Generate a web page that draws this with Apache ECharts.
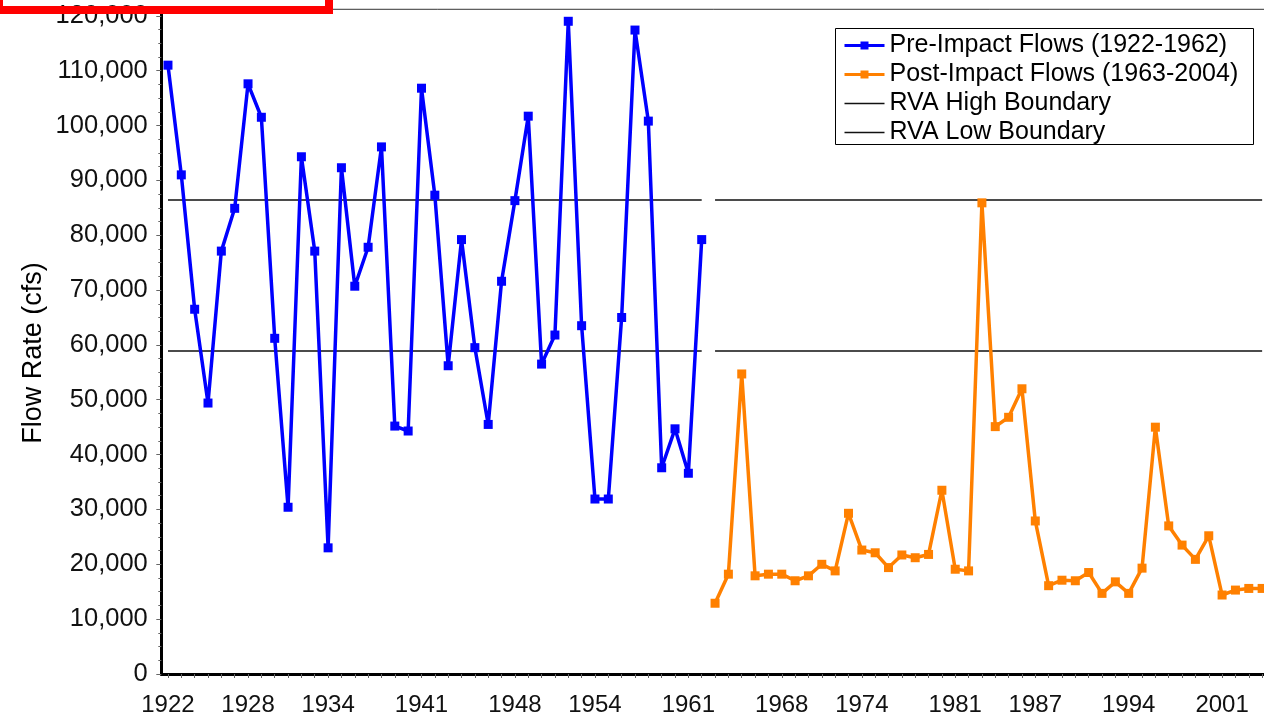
<!DOCTYPE html>
<html>
<head>
<meta charset="utf-8">
<script src="https://cdn.jsdelivr.net/npm/echarts@6/dist/echarts.min.js"></script>
<style>
html,body{margin:0;padding:0;background:#fff;}
#chart{width:1264px;height:717px;}
</style>
</head>
<body>
<div id="chart"></div>
<script>
const years = ['1922','1923','1924','1925','1926','1927','1928','1929','1930','1931',
  '1932','1933','1934','1935','1936','1937','1938','1939','1940','1941',
  '1942','1943','1944','1945','1946','1947','1948','1949','1950','1951',
  '1952','1953','1954','1955','1956','1957','1958','1959','1960','1961','1962',
  '1963','1964','1965','1966','1967','1968','1969','1970','1971','1972',
  '1973','1974','1975','1976','1977','1978','1979','1980','1981','1982',
  '1983','1984','1985','1986','1987','1988','1989','1990','1991','1992',
  '1993','1994','1995','1996','1997','1998','1999','2000','2001','2002','2003','2004'];

const xTickLabels = ['1922','1928','1934','1941','1948','1954','1961','1968','1974','1981','1987','1994','2001'];

// Pre-Impact Flows 1922-1962 (cfs)
const preImpact = [111000, 91000, 66500, 49400, 77100, 84900, 107600, 101500, 61200, 30400,
  94300, 77100, 23000, 92300, 70700, 77800, 96100, 45200, 44300, 106800,
  87300, 56200, 79200, 59500, 45500, 71600, 86300, 101700, 56500, 61800,
  119000, 63500, 31900, 31900, 65000, 117400, 100800, 37600, 44700, 36600, 79200];

// Post-Impact Flows 1963-2004 (cfs)
const postImpact = [12900, 18200, 54700, 17900, 18200, 18200, 17000, 17900, 20000, 18800,
  29300, 22600, 22100, 19400, 21700, 21200, 21800, 33500, 19100, 18800,
  85900, 45100, 46800, 52000, 27900, 16100, 17100, 17000, 18500, 14700,
  16800, 14700, 19300, 45000, 27000, 23500, 20900, 25200, 14400, 15300, 15600, 15600];

const rvaHigh = 86400;
const rvaLow = 58900;

const nPre = preImpact.length;
const nPost = postImpact.length;
const pad = n => new Array(n).fill(null);
const preData = preImpact.concat(pad(nPost));
const postData = pad(nPre).concat(postImpact);
const constPre = v => new Array(nPre).fill(v).concat(pad(nPost));
const constPost = v => pad(nPre).concat(new Array(nPost).fill(v));

const FONT = 'Liberation Sans, Arial, sans-serif';
const chart = echarts.init(document.getElementById('chart'), null, {renderer: 'canvas'});

const rvaLine = {type: 'line', symbol: 'none', showSymbol: false, silent: true,
  lineStyle: {color: '#111', width: 1.5}, itemStyle: {color: '#111'}, z: 1};
const lineIcon = 'path://M0,0 L40,0 L40,1.5 L0,1.5 Z';

chart.setOption({
  animation: false,
  backgroundColor: '#fff',
  grid: {left: 161.3, top: 9.3, width: 1107.5, height: 664.7, show: true,
    borderColor: '#333', borderWidth: 1, containLabel: false, outerBoundsMode: 'none'},
  legend: {
    orient: 'vertical', left: 843, top: 31, padding: 0,
    itemWidth: 40, itemHeight: 10, itemGap: 0,
    textStyle: {fontFamily: FONT, fontSize: 25, color: '#000', lineHeight: 29, padding: [0, 0, 0, 0]},
    data: [
      {name: 'Pre-Impact Flows (1922-1962)', lineStyle: {width: 3}},
      {name: 'Post-Impact Flows (1963-2004)', lineStyle: {width: 3}},
      {name: 'RVA High Boundary', icon: lineIcon, itemStyle: {color: '#111'}},
      {name: 'RVA Low Boundary', icon: lineIcon, itemStyle: {color: '#111'}}
    ]
  },
  xAxis: {
    type: 'category', data: years, boundaryGap: true, offset: 4,
    axisLine: {lineStyle: {color: '#000', width: 3}},
    axisTick: {show: true, interval: 0, alignWithLabel: true, length: 4, lineStyle: {color: '#666'}},
    axisLabel: {interval: (i, v) => xTickLabels.includes(v), fontFamily: FONT, fontSize: 24, color: '#111', margin: 15},
    splitLine: {show: false}
  },
  yAxis: {
    type: 'value', min: 0, max: 121185, interval: 10000,
    axisLine: {show: true, lineStyle: {color: '#000', width: 3}},
    axisTick: {show: true, length: 5, lineStyle: {color: '#666'}},
    minorTick: {show: true, splitNumber: 4, length: 3, lineStyle: {color: '#666'}},
    axisLabel: {showMaxLabel: false, fontFamily: FONT, fontSize: 25.5, color: '#111', margin: 13.5,
      formatter: v => v.toLocaleString('en-US')},
    splitLine: {show: false}
  },
  graphic: [
    {type: 'text', x: 34, y: 353, rotation: Math.PI / 2,
      style: {text: 'Flow Rate (cfs)', font: '27px ' + FONT, fill: '#000', textAlign: 'center', textVerticalAlign: 'middle'}},
    {type: 'rect', shape: {x: 835.5, y: 28.5, width: 418, height: 116}, style: {fill: null, stroke: '#000', lineWidth: 1}, z: 0},
    {type: 'rect', shape: {x: -1, y: -30, width: 330, height: 40}, style: {fill: null, stroke: '#ff0000', lineWidth: 8}, z: 100}
  ],
  series: [
    {name: 'Pre-Impact Flows (1922-1962)', type: 'line', data: preData, symbol: 'rect', symbolSize: 9,
      showAllSymbol: true, lineStyle: {color: '#0000ff', width: 3.5}, itemStyle: {color: '#0000ff'}, z: 3},
    {name: 'Post-Impact Flows (1963-2004)', type: 'line', data: postData, symbol: 'rect', symbolSize: 9,
      showAllSymbol: true, lineStyle: {color: '#ff8000', width: 3.5}, itemStyle: {color: '#ff8000'}, z: 3},
    Object.assign({name: 'RVA High Boundary', data: constPre(rvaHigh)}, rvaLine),
    Object.assign({name: 'RVA High Boundary', data: constPost(rvaHigh)}, rvaLine),
    Object.assign({name: 'RVA Low Boundary', data: constPre(rvaLow)}, rvaLine),
    Object.assign({name: 'RVA Low Boundary', data: constPost(rvaLow)}, rvaLine)
  ]
});
</script>
</body>
</html>
